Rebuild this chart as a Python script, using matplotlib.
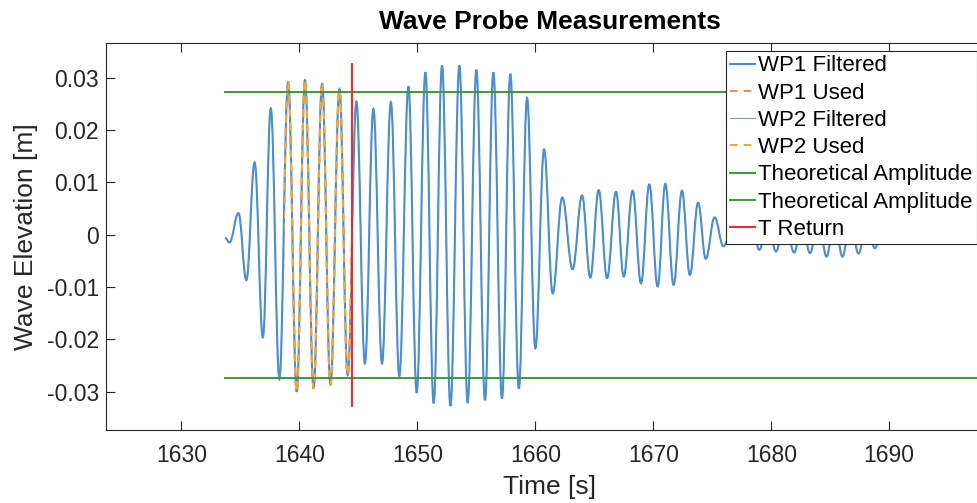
import matplotlib
matplotlib.use('Agg')
import matplotlib.pyplot as plt
from matplotlib.path import Path
from matplotlib.patches import PathPatch, Rectangle
from matplotlib.lines import Line2D

plt.rcParams['font.family'] = ['Liberation Sans', 'DejaVu Sans']

# peaks / troughs of the filtered probe signal
wp1_t = [1633.70, 1634.07, 1634.83, 1635.50, 1636.20, 1636.90, 1637.57, 1638.30,
         1639.04, 1639.77, 1640.47, 1641.20, 1641.92, 1642.63, 1643.39, 1644.09,
         1644.83, 1645.55, 1646.27, 1647.00, 1647.75, 1648.47, 1649.24, 1649.94,
         1650.68, 1651.38, 1652.09, 1652.80, 1653.56, 1654.26, 1655.00, 1655.73,
         1656.44, 1657.17, 1657.88, 1658.60, 1659.30, 1660.00, 1660.74, 1661.47,
         1662.28, 1663.16, 1663.96, 1664.66, 1665.37, 1666.08, 1666.84, 1667.49,
         1668.25, 1668.96, 1669.66, 1670.37, 1671.02, 1671.72, 1672.43, 1673.10,
         1673.80, 1674.45, 1675.20, 1675.95, 1676.80, 1677.70, 1678.35, 1678.98,
         1679.70, 1680.40, 1681.15, 1681.95, 1682.60, 1683.28, 1684.00, 1684.69,
         1685.35, 1686.04, 1686.70, 1687.40, 1688.10, 1688.79, 1689.40]
wp1_v = [-0.0006, -0.0015, 0.0041, -0.0087, 0.0138, -0.0196, 0.0241, -0.0276,
         0.0292, -0.0300, 0.0296, -0.0294, 0.0289, -0.0287, 0.0278, -0.0268,
         0.0254, -0.0246, 0.0240, -0.0246, 0.0253, -0.0270, 0.0283, -0.0302,
         0.0310, -0.0322, 0.0323, -0.0327, 0.0323, -0.0321, 0.0315, -0.0316,
         0.0310, -0.0313, 0.0307, -0.0294, 0.0261, -0.0217, 0.0163, -0.0112,
         0.0071, -0.0066, 0.0075, -0.0082, 0.0085, -0.0083, 0.0082, -0.0080,
         0.0084, -0.0093, 0.0096, -0.0099, 0.0097, -0.0096, 0.0084, -0.0077,
         0.0061, -0.0046, 0.0033, -0.0022, 0.0020, -0.0018, 0.0022, -0.0029,
         0.0025, -0.0032, 0.0026, -0.0034, 0.0027, -0.0035, 0.0028, -0.0042,
         0.0030, -0.0042, 0.0028, -0.0036, 0.0024, -0.0026, 0.0010]
# WP2 sits right under WP1 in the picture
wp2_t = wp1_t
wp2_v = wp1_v

used_window = [1638.67, 1644.43]
t_return = 1644.43
t_return_span = [-0.0327, 0.0326]
theory_amp = 0.0273
amp_t = [1633.70, 1700.0]

xticks = [1630, 1640, 1650, 1660, 1670, 1680, 1690]
yticks = [-0.03, -0.02, -0.01, 0, 0.01, 0.02, 0.03]
ytick_labels = ['-0.03', '-0.02', '-0.01', '0', '0.01', '0.02', '0.03']

c_blue = '#4a8fd6'
c_wp2 = '#7f9dbd'
c_used1 = '#e58a5c'
c_used2 = '#f0a832'
c_green = '#3c9a34'
c_red = '#ff1f1f'
c_axis = '#262626'


def wave_path(t, v, k=0.39):
    # smooth curve through the extrema, flat tangent at each one
    verts = [(t[0], v[0])]
    codes = [Path.MOVETO]
    for i in range(1, len(t)):
        dt = t[i] - t[i - 1]
        verts += [(t[i - 1] + k * dt, v[i - 1]), (t[i] - k * dt, v[i]), (t[i], v[i])]
        codes += [Path.CURVE4] * 3
    return Path(verts, codes)


fig = plt.figure(figsize=(9.78, 5.03), dpi=100)
# the axes runs a little past the right edge of the picture, as in the original crop
ax = fig.add_axes([106 / 978, 73 / 503, 887 / 978, 387 / 503])

ax.add_patch(PathPatch(wave_path(wp2_t, wp2_v), fill=False, edgecolor=c_wp2, lw=0.8, zorder=2))
ax.add_patch(PathPatch(wave_path(wp1_t, wp1_v), fill=False, edgecolor=c_blue, lw=1.5, zorder=3))

clip = Rectangle((used_window[0], -1), used_window[1] - used_window[0], 2,
                 transform=ax.transData, visible=False)
ax.add_patch(clip)
for col in [c_used1, c_used2]:
    p = PathPatch(wave_path(wp1_t, wp1_v), fill=False, edgecolor=col, lw=1.4,
                  linestyle=(0, (4, 3)), zorder=4)
    ax.add_patch(p)
    p.set_clip_path(clip)

ax.plot(amp_t, [theory_amp, theory_amp], color=c_green, lw=1.4, zorder=5)
ax.plot(amp_t, [-theory_amp, -theory_amp], color=c_green, lw=1.4, zorder=5)
ax.plot([t_return, t_return], t_return_span, color=c_red, lw=1.4, zorder=6)

ax.set_xlim(1623.6, 1698.8)
ax.set_ylim(-0.0373, 0.0366)
ax.set_xticks(xticks)
ax.set_yticks(yticks)
ax.set_yticklabels(ytick_labels)
ax.tick_params(direction='in', top=True, length=6.5, width=0.8, color=c_axis,
               labelsize=16.5, labelcolor=c_axis)
ax.tick_params(axis='x', pad=10)
ax.tick_params(axis='y', pad=5)
for s in ['left', 'bottom', 'top']:
    ax.spines[s].set_color(c_axis)
    ax.spines[s].set_linewidth(0.8)
ax.spines['right'].set_visible(False)

ax.set_xlabel('Time [s]', fontsize=19, color=c_axis, labelpad=6)
ax.set_ylabel('Wave Elevation [m]', fontsize=19, color=c_axis, labelpad=6)
ax.set_title('Wave Probe Measurements', fontsize=19, fontweight='bold', pad=10)

handles = [
    Line2D([], [], color=c_blue, lw=1.5),
    Line2D([], [], color=c_used1, lw=1.4, linestyle=(0, (4, 3))),
    Line2D([], [], color=c_wp2, lw=0.8),
    Line2D([], [], color=c_used2, lw=1.4, linestyle=(0, (4, 3))),
    Line2D([], [], color=c_green, lw=1.4),
    Line2D([], [], color=c_green, lw=1.4),
    Line2D([], [], color=c_red, lw=1.4),
]
labels = ['WP1 Filtered', 'WP1 Used', 'WP2 Filtered', 'WP2 Used',
          'Theoretical Amplitude', 'Theoretical Amplitude', 'T Return']
leg = ax.legend(handles, labels, loc='upper left',
                bbox_to_anchor=(725.7 / 978, 1 - 51 / 503), bbox_transform=fig.transFigure,
                fontsize=16, handlelength=1.1, handletextpad=0.15, labelspacing=0.28,
                borderpad=0.2, borderaxespad=0, fancybox=False, framealpha=1,
                edgecolor=c_axis)
leg.get_frame().set_linewidth(0.8)
leg.set_zorder(10)

fig.savefig('out.png', dpi=100)
